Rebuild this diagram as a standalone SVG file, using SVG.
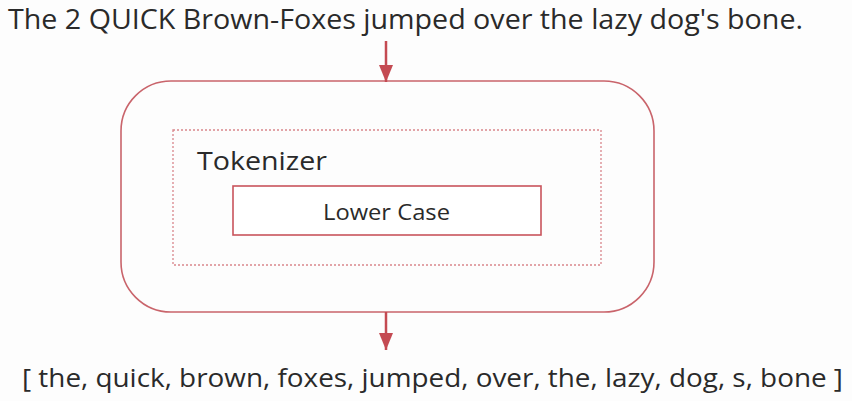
<svg xmlns="http://www.w3.org/2000/svg" width="852" height="401" viewBox="0 0 852 401">
<defs>
<style>
.txt{font-family:"Open Sans","Noto Sans","DejaVu Sans",sans-serif;fill:#2a2a2a}
.edge{stroke:#c44a52;stroke-width:2.5;fill:none}
</style>
<marker id="arr" viewBox="0 0 17 14" refX="17" refY="7" markerWidth="17" markerHeight="14" orient="auto" markerUnits="userSpaceOnUse">
<path d="M0,0 L17,7 L0,14 z" fill="#c44a52"/>
</marker>
</defs>
<rect width="852" height="401" fill="#fdfdfd"/>
<g id="input">
<text class="txt" x="8" y="29" font-size="27" textLength="795" lengthAdjust="spacingAndGlyphs">The 2 QUICK Brown-Foxes jumped over the lazy dog's bone.</text>
</g>
<g id="analyzer">
<rect x="121" y="81" width="533" height="231" rx="50" ry="50" fill="none" stroke="#c9646b" stroke-width="1.6"/>
</g>
<g id="tokenizer">
<rect x="173" y="130" width="428" height="135" fill="none" stroke="#d9868c" stroke-width="1.3" stroke-dasharray="2,2"/>
<text class="txt" x="197" y="170" font-size="25" textLength="130" lengthAdjust="spacingAndGlyphs">Tokenizer</text>
</g>
<g id="lowercase">
<rect x="233" y="186" width="308" height="49" fill="#ffffff" stroke="#c9545c" stroke-width="1.6"/>
<text class="txt" x="386.5" y="220" font-size="22" text-anchor="middle" textLength="127" lengthAdjust="spacingAndGlyphs">Lower Case</text>
</g>
<g id="output">
<text class="txt" x="22" y="387" font-size="26" textLength="821" lengthAdjust="spacingAndGlyphs">[ the, quick, brown, foxes, jumped, over, the, lazy, dog, s, bone ]</text>
</g>
<g id="connectors">
<line class="edge" x1="386" y1="41" x2="386" y2="82" marker-end="url(#arr)"/>
<line class="edge" x1="386" y1="312" x2="386" y2="350" marker-end="url(#arr)"/>
</g>
</svg>
